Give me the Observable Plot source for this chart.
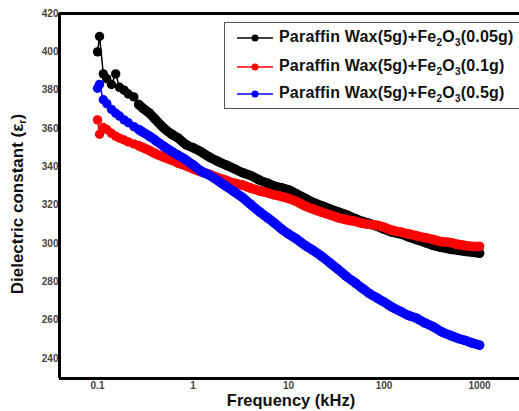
<!DOCTYPE html>
<html><head><meta charset="utf-8">
<script src="https://cdn.jsdelivr.net/npm/d3@7"></script>
<script src="https://cdn.jsdelivr.net/npm/@observablehq/plot@0.6"></script>
<style>
body{margin:0;background:#fff;font-family:"Liberation Sans",Arial,sans-serif;}
#wrap{position:relative;width:519px;height:411px;overflow:hidden;background:#fff;}
#wrap svg text{font-weight:bold;}
#legend{position:absolute;left:224px;top:22px;width:300px;height:87px;border:1.5px solid #555;box-sizing:border-box;background:#fff;}
.row{position:absolute;left:0;height:20px;display:flex;align-items:center;font-weight:bold;font-size:16px;letter-spacing:0.2px;color:#111;white-space:nowrap;}
.row svg{margin-left:12px;margin-right:6px;}
.row sub{font-size:10px;vertical-align:-4px;}
#ylab{position:absolute;left:18px;top:204px;transform:translate(-50%,-50%) rotate(-90deg);font-weight:bold;font-size:17px;white-space:nowrap;color:#111;}
#ylab sub{font-size:11px;vertical-align:-3px;}
#xlab{position:absolute;left:291px;top:400px;transform:translate(-50%,-50%);font-weight:bold;font-size:16.5px;white-space:nowrap;color:#111;}
</style>
</head><body>
<div id="wrap"></div>
<script>
const freq = [0.1,0.105,0.115,0.125,0.14,0.155,0.17,0.19,0.21,0.24,0.27,0.3,0.35,0.4,0.5,0.6,0.7,0.85,1,1.2,1.5,1.8,2.2,2.7,3.3,4,5,6,7,8.5,10,12,15,18,22,27,33,40,50,60,70,85,100,120,150,180,220,270,330,400,500,600,700,850,1000];
const black = [400,408,388.5,386,383,388.5,381.5,380,378,376.5,372.5,370.5,368,365,360,357,355,351.5,350,348,345,343,341,339,337,335.5,333,331.5,330,329,328,326,323.5,321.5,319.8,318,316.5,315,313,311.5,310.5,309,307.5,306,305,303.5,302,300.5,299,298,297,296.5,296,295.5,295];
const red = [364.5,357,360.5,359.5,357.5,356,355,354,353,352,351,350,348.5,347,345,343.5,342,340.5,339,337.5,336,334.5,333,331.5,330.5,329,327.5,326.5,325.5,324.5,323.5,322,319.5,318,316.5,315,313.5,312.5,311.5,310.5,310,309.5,308.5,307,306,305,304,303,302,301,300.5,299.5,299,298.5,298.5];
const blue = [381,383,375,373,370,368,366.5,364.5,363,361,359.5,358,356,354,350.5,348,346,343.5,341,338,335.5,333,330,327,324,320.5,316.5,313.5,311,307.5,305,302.5,299,296.5,293.5,290,286.5,283,279.5,276.5,274,271.5,269.5,267,264.5,262.5,261,258.5,256.5,254,252,250.5,249.5,248,247];
const seriesNames = ["Paraffin Wax(5g)+Fe2O3(0.05g)","Paraffin Wax(5g)+Fe2O3(0.1g)","Paraffin Wax(5g)+Fe2O3(0.5g)"];
const legendLabels = ["Paraffin Wax(5g)+Fe<sub>2</sub>O<sub>3</sub>(0.05g)","Paraffin Wax(5g)+Fe<sub>2</sub>O<sub>3</sub>(0.1g)","Paraffin Wax(5g)+Fe<sub>2</sub>O<sub>3</sub>(0.5g)"];
const colors = ["#000000","#ff0000","#0000ff"];
const xTicks = [0.1,1,10,100,1000];
const yTicks = [240,260,280,300,320,340,360,380,400,420];
const xDomain = [0.04,2620];
const yDomain = [229.6,420];

const seriesVals = [black, red, blue];
const marks = [];
seriesVals.forEach((vals, s) => {
  const rows = vals.map((v, i) => ({f: freq[i], v, s: seriesNames[s]}));
  marks.push(Plot.line(rows.filter(d => d.f >= 0.27), {x: "f", y: "v", stroke: "s", strokeWidth: 9.5, curve: "monotone-x"}));
  marks.push(Plot.line(rows, {x: "f", y: "v", stroke: "s", strokeWidth: 1.5}));
  marks.push(Plot.dot(rows, {x: "f", y: "v", fill: "s", r: 4.7}));
});
marks.push(Plot.ruleX([xDomain[0]], {stroke: "#000", strokeWidth: 3}));
marks.push(Plot.ruleY([yDomain[0]], {stroke: "#000", strokeWidth: 3}));
marks.push(Plot.ruleY([yDomain[1]], {stroke: "#000", strokeWidth: 3}));

const chart = Plot.plot({
  width: 519, height: 411,
  marginLeft: 59, marginRight: 0, marginTop: 13, marginBottom: 33,
  style: {fontFamily: "'Liberation Sans', Arial, sans-serif", fontSize: "10px", color: "#444", background: "#fff"},
  x: {type: "log", domain: xDomain, ticks: xTicks, tickFormat: d => String(d), tickSize: 0, tickPadding: 3, label: null},
  y: {domain: yDomain, ticks: yTicks, tickSize: 0, tickPadding: 1, label: null},
  color: {domain: seriesNames, range: colors},
  marks
});
const wrap = document.getElementById("wrap");
wrap.appendChild(chart);

const legend = document.createElement("div");
legend.id = "legend";
const rowTops = [5, 34, 61];
legendLabels.forEach((lab, i) => {
  const r = document.createElement("div");
  r.className = "row";
  r.style.top = rowTops[i] + "px";
  r.innerHTML = `<svg width="36" height="10"><line x1="0" x2="36" y1="5" y2="5" stroke="${colors[i]}" stroke-width="1.5"/><circle cx="18" cy="5" r="3.5" fill="${colors[i]}"/></svg><span>${lab}</span>`;
  legend.appendChild(r);
});
wrap.appendChild(legend);

const yl = document.createElement("div");
yl.id = "ylab";
yl.innerHTML = "Dielectric constant (ε<sub>r</sub>)";
wrap.appendChild(yl);
const xl = document.createElement("div");
xl.id = "xlab";
xl.textContent = "Frequency (kHz)";
wrap.appendChild(xl);
</script>
</body></html>
